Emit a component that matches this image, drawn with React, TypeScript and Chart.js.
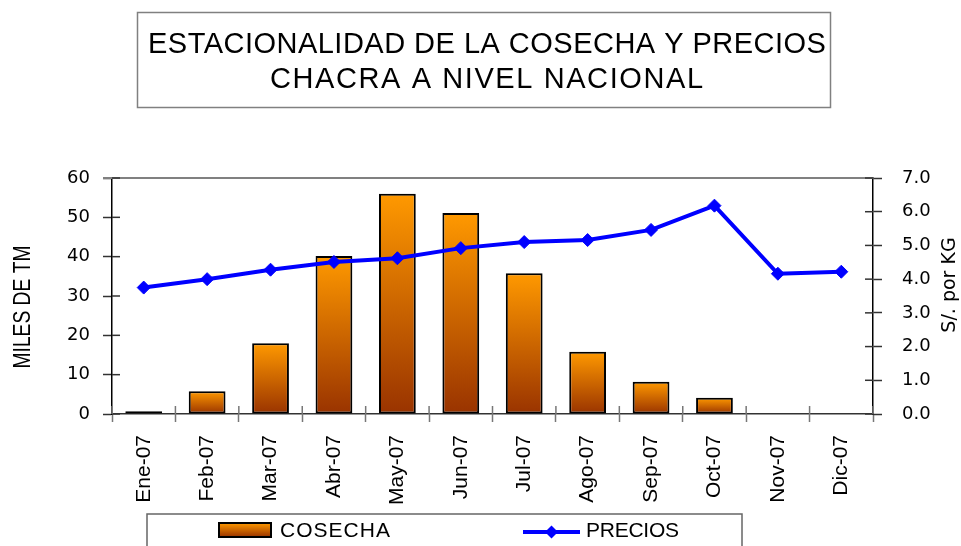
import { useEffect, useRef } from 'react';
import { Chart, registerables } from 'chart.js';

Chart.register(...registerables);

const categories = ['Ene-07', 'Feb-07', 'Mar-07', 'Abr-07', 'May-07', 'Jun-07', 'Jul-07', 'Ago-07', 'Sep-07', 'Oct-07', 'Nov-07', 'Dic-07'];
const cosecha: (number | null)[] = [0.7, 5.8, 18.0, 40.2, 56.0, 51.1, 35.8, 15.8, 8.2, 4.1, null, null];
const precios = [3.75, 4.0, 4.28, 4.51, 4.62, 4.92, 5.1, 5.16, 5.46, 6.18, 4.16, 4.22];
const leftTicks = { min: 0, max: 60, step: 10 };
const rightTicks = { min: 0, max: 7, step: 1 };
const titleLines = ['ESTACIONALIDAD DE LA COSECHA Y PRECIOS', 'CHACRA A NIVEL NACIONAL'];
const leftTitle = 'MILES DE TM';
const rightTitle = 'S/. por KG';
const seriesNames = ['COSECHA', 'PRECIOS'];

const ORANGE = '#FF9900';
const BROWN = '#993300';
const BLUE = '#0000FF';

function spacedText(ctx: CanvasRenderingContext2D, text: string, x: number, y: number, target: number) {
  (ctx as any).letterSpacing = '0px';
  const w = ctx.measureText(text).width;
  const sp = text.length > 1 ? (target - w) / (text.length - 1) : 0;
  (ctx as any).letterSpacing = sp.toFixed(2) + 'px';
  ctx.fillText(text, x, y);
  (ctx as any).letterSpacing = '0px';
}

function diamond(ctx: CanvasRenderingContext2D, cx: number, cy: number, r: number) {
  ctx.beginPath();
  ctx.moveTo(cx, cy - r);
  ctx.lineTo(cx + r, cy);
  ctx.lineTo(cx, cy + r);
  ctx.lineTo(cx - r, cy);
  ctx.closePath();
  ctx.fill();
}

const decor = {
  id: 'decor',
  beforeDatasetsDraw(chart: any) {
    const { ctx, chartArea: a } = chart;
    ctx.save();
    ctx.strokeStyle = '#808080';
    ctx.lineWidth = 2;
    ctx.beginPath();
    ctx.moveTo(a.left - 9, a.top);
    ctx.lineTo(a.right, a.top);
    ctx.stroke();
    ctx.restore();
  },
  afterDraw(chart: any) {
    const { ctx, chartArea: a, scales } = chart;
    const xs = scales.x, ys = scales.y, y1 = scales.y1;
    ctx.save();
    const line = (x1: number, yA: number, x2: number, yB: number) => {
      ctx.beginPath();
      ctx.moveTo(x1, yA);
      ctx.lineTo(x2, yB);
      ctx.stroke();
    };
    // inner tick marks
    ctx.lineWidth = 1.5;
    ctx.strokeStyle = '#333';
    ys.ticks.forEach((t: any) => {
      const py = ys.getPixelForValue(t.value);
      line(a.left, py, a.left + 8, py);
    });
    y1.ticks.forEach((t: any) => {
      const py = y1.getPixelForValue(t.value);
      line(a.right - 8, py, a.right, py);
    });
    ctx.strokeStyle = '#777';
    const n = categories.length;
    for (let i = 0; i <= n; i++) {
      const px = xs.left + (xs.width * i) / n;
      line(px, a.bottom - 8, px, a.bottom);
    }

    // title box
    ctx.strokeStyle = '#808080';
    ctx.lineWidth = 1.5;
    ctx.strokeRect(137.5, 12.5, 693, 95);
    ctx.fillStyle = '#000';
    ctx.font = '29px "Liberation Sans"';
    ctx.textAlign = 'left';
    ctx.textBaseline = 'alphabetic';
    spacedText(ctx, titleLines[0], 148, 53, 678);
    spacedText(ctx, titleLines[1], 270, 88, 433);

    // left axis title (condensed)
    ctx.save();
    ctx.font = '23px "Liberation Sans"';
    const lw = ctx.measureText(leftTitle).width;
    ctx.translate(30, 307);
    ctx.rotate(-Math.PI / 2);
    ctx.scale(123 / lw, 1);
    ctx.textAlign = 'center';
    ctx.textBaseline = 'alphabetic';
    ctx.fillText(leftTitle, 0, 0);
    ctx.restore();

    // right axis title
    ctx.save();
    ctx.font = '19px "DejaVu Sans"';
    ctx.translate(955, 285);
    ctx.rotate(-Math.PI / 2);
    ctx.textAlign = 'center';
    ctx.textBaseline = 'alphabetic';
    ctx.fillStyle = '#000';
    ctx.fillText(rightTitle, 0, 0);
    ctx.restore();

    // legend box
    ctx.strokeStyle = '#666';
    ctx.lineWidth = 1.5;
    ctx.strokeRect(147, 514, 595, 60);
    // bar swatch
    const g = ctx.createLinearGradient(0, 523, 0, 537);
    g.addColorStop(0, ORANGE);
    g.addColorStop(1, BROWN);
    ctx.fillStyle = g;
    ctx.fillRect(219, 523, 52, 14);
    ctx.strokeStyle = '#000';
    ctx.lineWidth = 2;
    ctx.strokeRect(219, 523, 52, 14);
    ctx.fillStyle = '#000';
    ctx.font = '21px "Liberation Sans"';
    ctx.textAlign = 'left';
    spacedText(ctx, seriesNames[0], 280, 537, 110);
    // line swatch
    ctx.strokeStyle = BLUE;
    ctx.lineWidth = 4;
    line(523, 532, 580, 532);
    ctx.fillStyle = BLUE;
    diamond(ctx, 551.5, 532, 6.5);
    ctx.fillStyle = '#000';
    spacedText(ctx, seriesNames[1], 586, 537, 93);
    ctx.restore();
  },
};

export default function App() {
  const ref = useRef<HTMLCanvasElement>(null);
  useEffect(() => {
    if (!ref.current) return;
    const chart = new Chart(ref.current, {
      type: 'bar',
      data: {
        labels: categories,
        datasets: [
          {
            type: 'line',
            label: seriesNames[1],
            data: precios,
            yAxisID: 'y1',
            borderColor: BLUE,
            backgroundColor: BLUE,
            borderWidth: 4,
            pointStyle: 'rectRot',
            pointRadius: 6.5,
            pointBackgroundColor: BLUE,
            pointBorderColor: BLUE,
            pointBorderWidth: 1,
            tension: 0,
            order: 0,
          } as any,
          {
            type: 'bar',
            label: seriesNames[0],
            data: cosecha,
            yAxisID: 'y',
            borderColor: '#000',
            borderWidth: 2,
            borderSkipped: false,
            barPercentage: 0.58,
            categoryPercentage: 1,
            order: 1,
            backgroundColor: (c: any) => {
              const chart = c.chart;
              if (!chart.chartArea || c.raw == null) return ORANGE;
              const ys = chart.scales.y;
              const top = ys.getPixelForValue(c.raw);
              const bot = ys.getPixelForValue(0);
              if (!isFinite(top) || bot - top < 0.5) return BROWN;
              const g = chart.ctx.createLinearGradient(0, top, 0, bot);
              g.addColorStop(0, ORANGE);
              g.addColorStop(1, BROWN);
              return g;
            },
          } as any,
        ],
      },
      options: {
        responsive: false,
        animation: false,
        devicePixelRatio: 1,
        layout: { padding: { top: 178, left: 0, right: 0, bottom: 0 } },
        plugins: {
          legend: { display: false },
          title: { display: false },
          tooltip: { enabled: false },
        },
        scales: {
          x: {
            offset: true,
            grid: { offset: true, drawOnChartArea: false, tickLength: 8, tickColor: '#777', tickWidth: 1.5 },
            border: { color: '#333', width: 1.5 },
            ticks: {
              autoSkip: false,
              minRotation: 90,
              maxRotation: 90,
              padding: 13,
              color: '#000',
              font: { family: '"Liberation Sans"', size: 21 },
            },
            afterFit: (s: any) => {
              s.height = 132;
            },
          },
          y: {
            position: 'left',
            min: leftTicks.min,
            max: leftTicks.max,
            grid: { drawOnChartArea: false, tickLength: 9, tickColor: '#333', tickWidth: 1.5 },
            border: { color: '#000', width: 1.5 },
            ticks: {
              stepSize: leftTicks.step,
              padding: 13,
              color: '#000',
              font: { family: '"DejaVu Sans"', size: 18 },
            },
            afterFit: (s: any) => {
              s.width = 112;
            },
          },
          y1: {
            position: 'right',
            min: rightTicks.min,
            max: rightTicks.max,
            grid: { drawOnChartArea: false, tickLength: 9, tickColor: '#333', tickWidth: 1.5 },
            border: { color: '#000', width: 1.5 },
            ticks: {
              stepSize: rightTicks.step,
              padding: 20,
              color: '#000',
              font: { family: '"DejaVu Sans"', size: 18 },
              callback: (v: any) => Number(v).toFixed(1),
            },
            afterFit: (s: any) => {
              s.width = 88;
            },
          },
        },
      },
      plugins: [decor],
    });
    return () => chart.destroy();
  }, []);
  return (
    <div style={{ position: 'absolute', left: 0, top: 0, width: 961, height: 546, background: '#fff' }}>
      <canvas ref={ref} width={961} height={546} style={{ display: 'block', width: 961, height: 546 }} />
    </div>
  );
}
